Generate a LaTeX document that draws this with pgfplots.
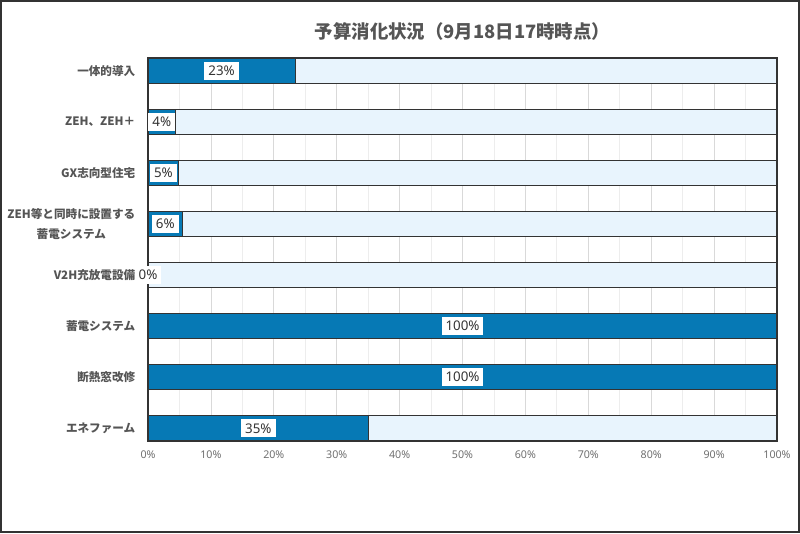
\documentclass[border=0pt]{standalone}
\usepackage{fontspec}
\setmainfont{Noto Sans CJK JP}
\newfontfamily\numfont{Noto Sans}
\usepackage{pgfplots}
\pgfplotsset{compat=1.18}
\definecolor{barblue}{HTML}{0679B5}
\definecolor{barbg}{HTML}{E8F4FD}
\definecolor{edge}{HTML}{333333}
\definecolor{txt}{HTML}{555555}
\definecolor{ticktxt}{HTML}{707070}
\begin{document}
\begin{tikzpicture}
\draw[edge, line width=1.5pt, fill=white] (0.75pt,0.75pt) rectangle (599.25pt,399pt);
\begin{axis}[
  at={(111pt,69pt)}, anchor=south west,
  scale only axis, width=471.75pt, height=287.25pt,
  xmin=0, xmax=100, ymin=-0.25, ymax=7.25, y dir=reverse,
  xtick={0,10,...,100},
  xticklabels={0\%,10\%,20\%,30\%,40\%,50\%,60\%,70\%,80\%,90\%,100\%},
  minor x tick num=1,
  xmajorgrids, xminorgrids,
  major grid style={draw=black!15, line width=0.6pt},
  minor grid style={draw=black!7, line width=0.6pt},
  major tick length=0pt, minor tick length=0pt,
  ytick={0,...,7},
  yticklabels={一体的導入,ZEH、ZEH＋,GX志向型住宅,{ZEH等と同時に設置する\\蓄電システム},V2H充放電設備,蓄電システム,断熱窓改修,エネファーム},
  yticklabel style={font=\fontsize{8.7pt}{15pt}\selectfont\bfseries, text=txt, align=center, xshift=-6pt},
  xticklabel style={font=\numfont\fontsize{8pt}{10pt}\selectfont, text=ticktxt, yshift=-4pt},
  axis line style={draw=edge, line width=0.8pt},
  title={予算消化状況（9月18日17時時点）},
  title style={font=\fontsize{13.8pt}{16pt}\selectfont\bfseries, text=txt, yshift=4pt},
  clip=false,
]
\addplot[xbar, bar width=0.5, bar shift=0pt, fill=barbg, draw=edge, line width=0.8pt]
  coordinates {(100,0) (100,1) (100,2) (100,3) (100,4) (100,5) (100,6) (100,7)};
\addplot[xbar, bar width=0.5, bar shift=0pt, fill=barblue, draw=edge, line width=0.8pt]
  coordinates {(23.4,0) (4.4,1) (4.9,2) (5.5,3) (0,4) (100,5) (100,6) (35.1,7)};
\addplot[only marks, mark=none, nodes near coords, point meta=explicit symbolic,
  every node near coord/.append style={anchor=center, fill=white, inner xsep=3pt, inner ysep=3pt, text=edge, font=\numfont\fontsize{10pt}{12pt}\selectfont}]
  coordinates {(11.7,0) [23\%] (2.2,1) [4\%] (2.45,2) [5\%] (2.75,3) [6\%] (0,4) [0\%] (50,5) [100\%] (50,6) [100\%] (17.55,7) [35\%]};
\end{axis}
\end{tikzpicture}
\end{document}
